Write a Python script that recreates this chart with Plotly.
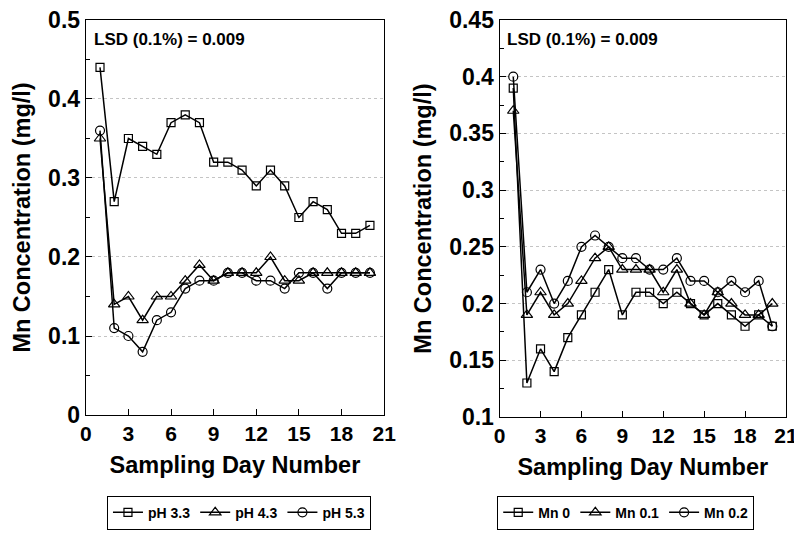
import plotly.graph_objects as go

days = list(range(1, 21))

# Left panel: pH treatments
ph33 = [0.44, 0.27, 0.35, 0.34, 0.33, 0.37, 0.38, 0.37, 0.32, 0.32,
        0.31, 0.29, 0.31, 0.29, 0.25, 0.27, 0.26, 0.23, 0.23, 0.24]
ph43 = [0.35, 0.14, 0.15, 0.12, 0.15, 0.15, 0.17, 0.19, 0.17, 0.18,
        0.18, 0.18, 0.20, 0.17, 0.17, 0.18, 0.18, 0.18, 0.18, 0.18]
ph53 = [0.36, 0.11, 0.10, 0.08, 0.12, 0.13, 0.16, 0.17, 0.17, 0.18,
        0.18, 0.17, 0.17, 0.16, 0.18, 0.18, 0.16, 0.18, 0.18, 0.18]

# Right panel: Mn treatments
mn0 = [0.39, 0.13, 0.16, 0.14, 0.17, 0.19, 0.21, 0.23, 0.19, 0.21,
       0.21, 0.20, 0.21, 0.20, 0.19, 0.20, 0.19, 0.18, 0.19, 0.18]
mn01 = [0.37, 0.19, 0.21, 0.19, 0.20, 0.22, 0.24, 0.25, 0.23, 0.23,
        0.23, 0.21, 0.23, 0.20, 0.19, 0.21, 0.20, 0.19, 0.19, 0.20]
mn02 = [0.40, 0.21, 0.23, 0.20, 0.22, 0.25, 0.26, 0.25, 0.24, 0.24,
        0.23, 0.23, 0.24, 0.22, 0.22, 0.21, 0.22, 0.21, 0.22, 0.18]

left_names = ["pH 3.3", "pH 4.3", "pH 5.3"]
right_names = ["Mn 0", "Mn 0.1", "Mn 0.2"]
symbols = ["square-open", "triangle-up-open", "circle-open"]
sizes = [8, 10, 9]

FONT = "Liberation Sans"

fig = go.Figure()

for name, vals, sym, sz in zip(left_names, [ph33, ph43, ph53], symbols, sizes):
    fig.add_trace(go.Scatter(
        x=days, y=vals, name=name, mode="lines+markers",
        line=dict(color="black", width=1.5),
        marker=dict(symbol=sym, size=sz, color="black", line=dict(width=1.2, color="black")),
        xaxis="x", yaxis="y", legend="legend"))

for name, vals, sym, sz in zip(right_names, [mn0, mn01, mn02], symbols, sizes):
    fig.add_trace(go.Scatter(
        x=days, y=vals, name=name, mode="lines+markers",
        line=dict(color="black", width=1.5),
        marker=dict(symbol=sym, size=sz, color="black", line=dict(width=1.2, color="black")),
        xaxis="x2", yaxis="y2", legend="legend2"))

xtickfont = dict(family=FONT, size=21, color="black", weight="bold")
ytickfont = dict(family=FONT, size=23, color="black", weight="bold")
titlefont = dict(family=FONT, size=23.5, color="black", weight="bold")

common_x = dict(
    range=[0, 21], tickmode="array", tickvals=[0, 3, 6, 9, 12, 15, 18, 21],
    ticks="inside", ticklen=6, tickcolor="black", showline=True, linecolor="black",
    linewidth=1.2, mirror=True, showgrid=False, zeroline=False, tickfont=xtickfont,
    automargin=False, ticklabeloverflow="allow",
    title=dict(text="Sampling Day Number", font=titlefont, standoff=12),
)
common_y = dict(
    ticks="inside", ticklen=6, tickcolor="black", showline=True, linecolor="black",
    linewidth=1.2, mirror=True, showgrid=True, gridcolor="#c4c4c4", griddash="dot",
    gridwidth=1, zeroline=False, tickfont=ytickfont, automargin=False,
    ticklabeloverflow="allow",
    title=dict(text="Mn Concentration (mg/l)", font=titlefont, standoff=10),
)

fig.update_layout(
    width=802, height=533,
    margin=dict(l=0, r=0, t=0, b=0),
    paper_bgcolor="white", plot_bgcolor="white",
    xaxis=dict(domain=[0.097, 0.469], anchor="y", **common_x),
    yaxis=dict(domain=[0.2364, 0.9775], anchor="x", range=[0, 0.5], dtick=0.1,
               minor=dict(dtick=0.05, ticks="inside", ticklen=4,
                          tickcolor="black", showgrid=False), **common_y),
    xaxis2=dict(domain=[0.613, 0.97], anchor="y2", **common_x),
    yaxis2=dict(domain=[0.2326, 0.9775], anchor="x2", range=[0.1, 0.45], dtick=0.05,
                minor=dict(dtick=0.025, ticks="inside", ticklen=4,
                           tickcolor="black", showgrid=False), **common_y),
    legend=dict(orientation="h", x=0.1234, y=0.085, xanchor="left", yanchor="top",
                bordercolor="black", borderwidth=1, itemwidth=30,
                font=dict(family=FONT, size=14, color="black", weight="bold"),
                tracegroupgap=0),
    legend2=dict(orientation="h", x=0.61, y=0.085, xanchor="left", yanchor="top",
                 bordercolor="black", borderwidth=1, itemwidth=30,
                 font=dict(family=FONT, size=14, color="black", weight="bold"),
                 tracegroupgap=0),
    annotations=[
        dict(text="LSD (0.1%) = 0.009", xref="x domain", yref="y domain", x=0.02, y=0.98,
             xanchor="left", yanchor="top", showarrow=False,
             font=dict(family=FONT, size=17, color="black", weight="bold")),
        dict(text="LSD (0.1%) = 0.009", xref="x2 domain", yref="y2 domain", x=0.02, y=0.98,
             xanchor="left", yanchor="top", showarrow=False,
             font=dict(family=FONT, size=17, color="black", weight="bold")),
    ],
)

fig.write_html("out.html")
